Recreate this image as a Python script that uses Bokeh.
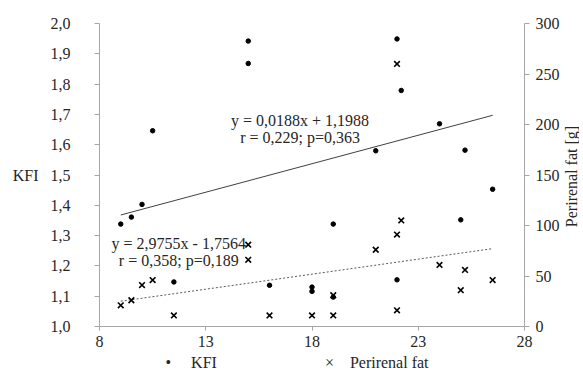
import math
from bokeh.plotting import figure
from bokeh.models import (Range1d, LinearAxis, FixedTicker, CustomJSTickFormatter, Label)
from bokeh.embed import file_html
from bokeh.resources import INLINE

# ---- data ----
kfi_x = [9, 9.5, 10, 10.5, 11.5, 15, 15, 16, 18, 18, 19, 19, 21, 22, 22, 22.2, 24, 25, 25.2, 26.5]
kfi_y = [1.338, 1.361, 1.403, 1.646, 1.147, 1.942, 1.868, 1.136, 1.130, 1.116,
         1.338, 1.097, 1.580, 1.949, 1.154, 1.779, 1.669, 1.352, 1.582, 1.453]
fat_x = [9, 9.5, 10, 10.5, 11.5, 15, 15, 16, 18, 19, 19, 21, 22, 22, 22, 22.2, 24, 25, 25.2, 26.5]
fat_y = [21, 26, 41, 46, 11, 81, 66, 11, 11, 11, 31, 76, 260, 91, 16, 105, 61, 36, 56, 46]
kfi_fit = [0.0188, 1.1988]      # slope, intercept
fat_fit = [2.9755, -1.7564]
kfi_eq = ["y = 0,0188x + 1,1988", "r = 0,229; p=0,363"]
fat_eq = ["y = 2,9755x - 1,7564", "r = 0,358; p=0,189"]
x_ticks = [8, 13, 18, 23, 28]
kfi_ticks = [1.0, 1.1, 1.2, 1.3, 1.4, 1.5, 1.6, 1.7, 1.8, 1.9, 2.0]
fat_ticks = [0, 50, 100, 150, 200, 250, 300]
series_names = ["KFI", "Perirenal fat"]
legend_symbols = ["\u2022", "\u00d7"]
right_title = "Perirenal fat [g]"

FONT = "Liberation Serif"
TXT = "#262626"
AX = "#a6a6a6"

p = figure(frame_width=425, frame_height=303, output_backend="svg", toolbar_location=None,
           x_range=Range1d(8, 28), y_range=Range1d(1.0, 2.0),
           min_border_left=99, min_border_right=50, min_border_top=23, min_border_bottom=46,
           x_axis_location="below", y_axis_location="left")
p.extra_y_ranges = {"fat": Range1d(0, 300)}
p.outline_line_color = None
p.xgrid.visible = False
p.ygrid.visible = False
p.background_fill_color = "white"
p.border_fill_color = "white"

def style_axis(ax):
    ax.axis_line_color = AX
    ax.major_tick_line_color = AX
    ax.minor_tick_line_color = None
    ax.major_tick_in = 0
    ax.major_label_text_font = FONT
    ax.major_label_text_font_size = "16px"
    ax.major_label_text_color = TXT
    ax.axis_label_text_font = FONT
    ax.axis_label_text_font_size = "16px"
    ax.axis_label_text_font_style = "normal"
    ax.axis_label_text_color = TXT

xa = p.xaxis[0]
style_axis(xa)
xa.ticker = FixedTicker(ticks=x_ticks)
xa.major_tick_out = 4
xa.major_label_standoff = 5

ya = p.yaxis[0]
style_axis(ya)
ya.ticker = FixedTicker(ticks=kfi_ticks)
ya.formatter = CustomJSTickFormatter(code="return tick.toFixed(1).replace('.', ',');")
ya.major_tick_out = 5
ya.major_label_standoff = 24
ya.axis_label = "KFI"
ya.axis_label_orientation = "horizontal"
ya.axis_label_standoff = 9

ra = LinearAxis(y_range_name="fat", ticker=FixedTicker(ticks=fat_ticks))
style_axis(ra)
ra.major_tick_out = 5
ra.major_label_standoff = 6
p.add_layout(ra, "right")

# right-hand axis title, reading bottom-to-top, in the right panel
p.add_layout(Label(x=9, y=150, x_units="screen", y_units="screen", text=right_title,
                   angle=math.pi / 2, text_font=FONT, text_font_size="16px",
                   text_color=TXT, text_align="center", text_baseline="middle"), "right")

# trend lines
kx = [min(kfi_x), max(kfi_x)]
p.line(kx, [kfi_fit[0] * v + kfi_fit[1] for v in kx], line_color="#404040", line_width=1)
fx = [min(fat_x), max(fat_x)]
p.line(fx, [fat_fit[0] * v + fat_fit[1] for v in fx], line_color="#595959", line_width=1,
       line_dash="2 2", y_range_name="fat")

# points
p.scatter(kfi_x, kfi_y, marker="circle", size=4.5, fill_color="black", line_color="black")
p.scatter(fat_x, fat_y, marker="x", size=8, line_color="black", line_width=1.6, y_range_name="fat")

# equations
for txt, xx, yy in [(kfi_eq[0], 17.44, 1.68), (kfi_eq[1], 17.44, 1.623),
                    (fat_eq[0], 11.73, 1.275), (fat_eq[1], 11.73, 1.217)]:
    p.add_layout(Label(x=xx, y=yy, text=txt, text_font=FONT, text_font_size="16px",
                       text_color=TXT, text_align="center", text_baseline="middle"))

# legend line, in the panel under the x axis
NB = "\u00a0"
legend_text = (legend_symbols[0] + NB * 5 + series_names[0] + NB * 27 +
               legend_symbols[1] + NB * 4 + series_names[1])
p.add_layout(Label(x=66, y=4, x_units="screen", y_units="screen", text=legend_text,
                   text_font=FONT, text_font_size="16px", text_color=TXT,
                   text_align="left", text_baseline="middle"), "below")

open("out.html", "w").write(file_html(p, INLINE))
